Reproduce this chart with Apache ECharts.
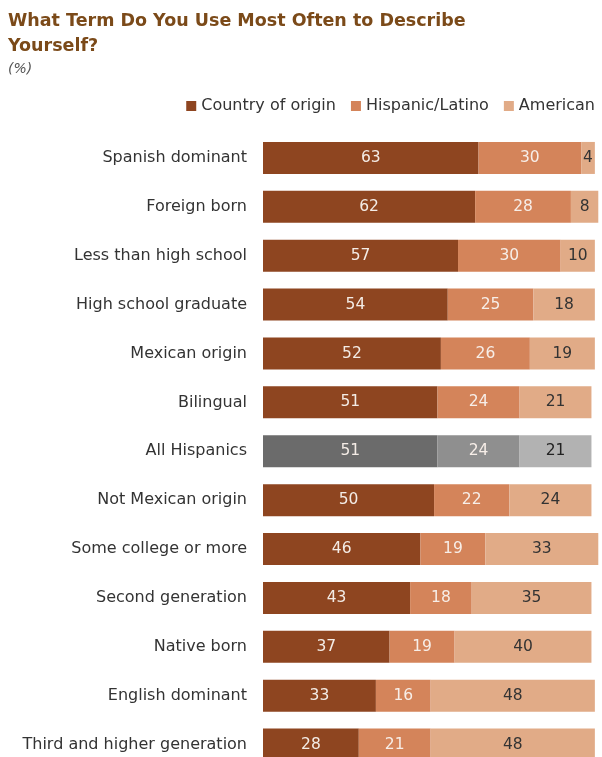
<!DOCTYPE html>
<html><head><meta charset="utf-8">
<script src="https://cdn.jsdelivr.net/npm/echarts@6/dist/echarts.min.js"></script>
<style>html,body{margin:0;padding:0;background:#fff}#c{width:602px;height:757px}</style>
</head><body><div id="c"></div>
<script>
const categories = ["Spanish dominant","Foreign born","Less than high school","High school graduate","Mexican origin","Bilingual","All Hispanics","Not Mexican origin","Some college or more","Second generation","Native born","English dominant","Third and higher generation"];
const countryOfOrigin = [63,62,57,54,52,51,51,50,46,43,37,33,28];
const hispanicLatino = [30,28,30,25,26,24,24,22,19,18,19,16,21];
const american = [4,8,10,18,19,21,21,24,33,35,40,48,48];
const seriesNames = ["Country of origin","Hispanic/Latino","American"];

const colors = ["#8e4520","#d4845a","#e1ab87"];
const greys = ["#6b6b6b","#8f8f8f","#b2b2b2"];
const labelColors = ["#f4ece6","#f7eee8","#333333"];
const highlight = "All Hispanics";

function build(vals, i){
  return vals.map((v,k)=>({
    value: v,
    itemStyle: {color: categories[k]===highlight ? greys[i] : colors[i]},
    label: i===2 ? {color: categories[k]===highlight ? "#222" : "#333"} : {}
  }));
}
const allVals = [countryOfOrigin, hispanicLatino, american];
const chart = echarts.init(document.getElementById('c'));
chart.setOption({
  animation:false,
  title:{
    text:"What Term Do You Use Most Often to Describe\nYourself?",
    subtext:"(%)",
    left:3, top:4,
    textStyle:{fontFamily:"DejaVu Sans",fontWeight:"bold",fontSize:17.5,color:"#7b4a19",lineHeight:25},
    subtextStyle:{fontFamily:"DejaVu Sans",fontStyle:"italic",fontSize:14,color:"#555"},
    itemGap:3
  },
  legend:{
    right:2, top:93,
    itemWidth:10, itemHeight:10, itemGap:15,
    icon:"rect",
    textStyle:{fontFamily:"DejaVu Sans",fontSize:16,color:"#333"},
    data: seriesNames.map((n,i)=>({name:n,itemStyle:{color:colors[i]}}))
  },
  grid:{left:263, top:133.5, width:337, height:635.5, containLabel:false, outerBoundsMode:"none"},
  xAxis:{type:"value",min:0,max:98.5,show:false},
  yAxis:{type:"category",data:categories,inverse:true,
    axisLine:{show:false},axisTick:{show:false},
    axisLabel:{fontFamily:"DejaVu Sans",fontSize:16,color:"#333",margin:16}},
  series: seriesNames.map((n,i)=>({
    name:n, type:"bar", stack:"t", barWidth:32,
    itemStyle:{color:colors[i]},
    label:{show:true,position:"inside",fontFamily:"DejaVu Sans",fontSize:15.5,color:labelColors[i]},
    data: build(allVals[i], i)
  }))
});
</script></body></html>
